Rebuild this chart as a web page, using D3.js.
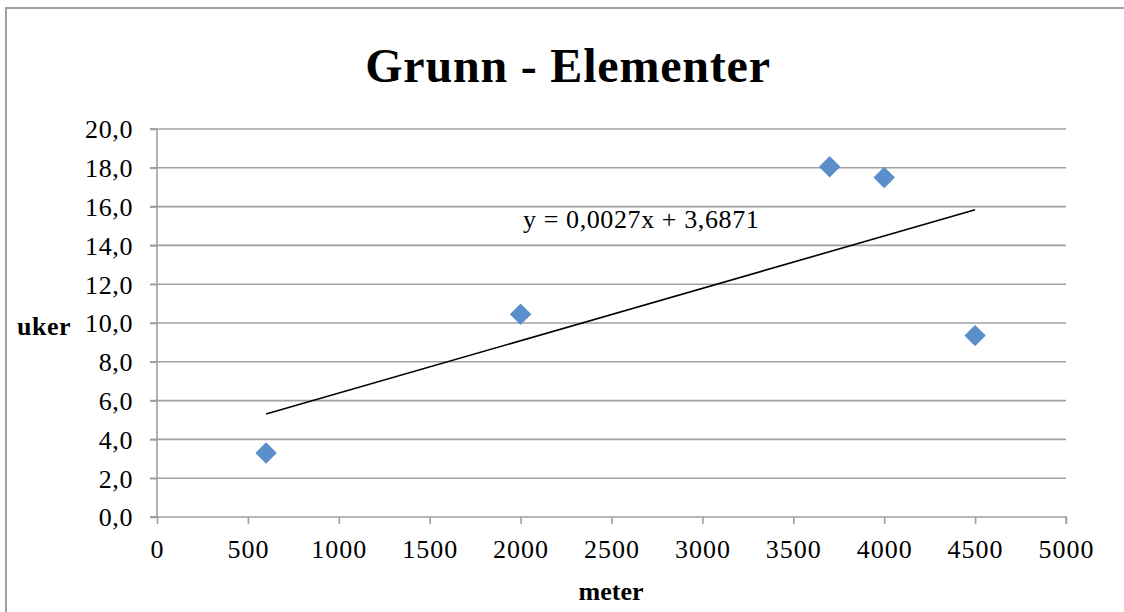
<!DOCTYPE html>
<html>
<head>
<meta charset="utf-8">
<script src="https://cdn.jsdelivr.net/npm/d3@7"></script>
<style>
  html, body { margin: 0; padding: 0; background: #fff; }
  svg { display: block; }
</style>
</head>
<body>
<svg id="chart" width="1124" height="612"></svg>
<script>
const title = "Grunn - Elementer";
const xLabel = "meter";
const yLabel = "uker";
const meters = [600, 2000, 3700, 4000, 4500];
const weeks = [3.3, 10.45, 18.05, 17.5, 9.35];
const xTicks = [0, 500, 1000, 1500, 2000, 2500, 3000, 3500, 4000, 4500, 5000];
const yTicks = [0, 2, 4, 6, 8, 10, 12, 14, 16, 18, 20];
const trendSlope = 0.0027;
const trendIntercept = 3.6871;
const trendLabel = "y = 0,0027x + 3,6871";

const svg = d3.select("#chart");
const serif = "'Liberation Serif', 'Times New Roman', serif";

const x = d3.scaleLinear().domain([0, 5000]).range([157, 1066]);
const y = d3.scaleLinear().domain([0, 20]).range([517, 129]);

// outer frame
svg.append("rect").attr("x", 6).attr("y", 8).attr("width", 1300).attr("height", 800)
  .attr("fill", "none").attr("stroke", "#a0a0a0").attr("stroke-width", 2);

// gridlines
svg.append("g").selectAll("line").data(yTicks.filter(d => d !== 0)).join("line")
  .attr("x1", 150).attr("x2", x(5000))
  .attr("y1", d => y(d)).attr("y2", d => y(d))
  .attr("stroke", "#a0a0a0").attr("stroke-width", 1.6);

// y axis
const yAxis = d3.axisLeft(y).tickValues(yTicks).tickSize(7).tickPadding(17)
  .tickFormat(d => d3.format(".1f")(d).replace(".", ","));
const gy = svg.append("g").attr("transform", `translate(${x(0)},0)`).call(yAxis);
gy.select(".domain").attr("stroke", "#a0a0a0").attr("stroke-width", 1.6).attr("d", `M-7,${y(0)}H0V${y(20)}H-7`);
gy.selectAll(".tick line").attr("stroke", "#a0a0a0").attr("stroke-width", 1.6);
gy.selectAll(".tick text").attr("font-family", serif).attr("font-size", 26)
  .attr("fill", "#000").attr("letter-spacing", 0.6).attr("dy", "0.34em");

// x axis
const xAxis = d3.axisBottom(x).tickValues(xTicks).tickSize(7).tickPadding(16)
  .tickFormat(d => String(d));
const gx = svg.append("g").attr("transform", `translate(0,${y(0)})`).call(xAxis);
gx.select(".domain").attr("stroke", "#a0a0a0").attr("stroke-width", 1.6).attr("d", `M150,0H${x(5000)}V7`);
gx.selectAll(".tick line").attr("stroke", "#a0a0a0").attr("stroke-width", 1.6);
gx.selectAll(".tick text").attr("font-family", serif).attr("font-size", 26)
  .attr("fill", "#000").attr("letter-spacing", 1).attr("dy", "0.71em");

// trendline
const xMin = d3.min(meters), xMax = d3.max(meters);
svg.append("line")
  .attr("x1", x(xMin)).attr("y1", y(trendSlope * xMin + trendIntercept))
  .attr("x2", x(xMax)).attr("y2", y(trendSlope * xMax + trendIntercept))
  .attr("stroke", "#000").attr("stroke-width", 1.6);

// points
const diamond = d3.symbol().type(d3.symbolSquare).size(230);
svg.append("g").selectAll("path").data(meters.map((m, i) => [m, weeks[i]])).join("path")
  .attr("d", diamond)
  .attr("transform", d => `translate(${x(d[0])},${y(d[1])}) rotate(45)`)
  .attr("fill", "#5a8fcb");

// trend label
svg.append("text").attr("x", 523).attr("y", 228)
  .attr("font-family", serif).attr("font-size", 26).attr("letter-spacing", 0.6)
  .attr("fill", "#000").text(trendLabel);

// title
svg.append("text").attr("x", 568).attr("y", 82).attr("text-anchor", "middle")
  .attr("font-family", serif).attr("font-weight", "bold").attr("font-size", 48)
  .attr("letter-spacing", 0.8).attr("fill", "#000").text(title);

// axis titles
svg.append("text").attr("x", 611).attr("y", 600).attr("text-anchor", "middle")
  .attr("font-family", serif).attr("font-weight", "bold").attr("font-size", 26)
  .attr("fill", "#000").text(xLabel);
svg.append("text").attr("x", 17).attr("y", 335)
  .attr("font-family", serif).attr("font-weight", "bold").attr("font-size", 26)
  .attr("letter-spacing", 0.5).attr("fill", "#000").text(yLabel);
</script>
</body>
</html>
